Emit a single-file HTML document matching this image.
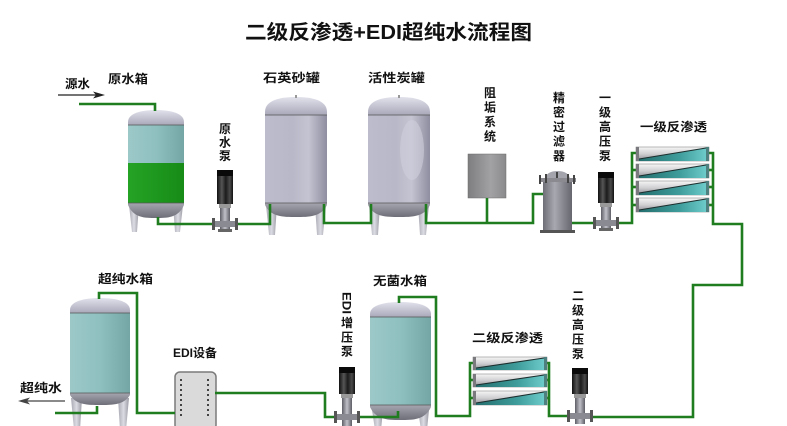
<!DOCTYPE html>
<html><head><meta charset="utf-8">
<style>
html,body{margin:0;padding:0;background:#fff;}
svg{display:block;}
text{font-family:"Liberation Sans","Noto Sans CJK SC",sans-serif;font-weight:bold;fill:#111;}
</style></head>
<body>
<svg width="787" height="426" viewBox="0 0 787 426" xmlns="http://www.w3.org/2000/svg">
<defs>
<linearGradient id="gTank" x1="0" x2="1" y1="0" y2="0">
<stop offset="0" stop-color="#bcbccc"/><stop offset="0.45" stop-color="#b8b8c8"/><stop offset="0.7" stop-color="#c4c4d2"/><stop offset="1" stop-color="#8e8ea0"/></linearGradient>
<linearGradient id="gTeal" x1="0" x2="1" y1="0" y2="0">
<stop offset="0" stop-color="#9cc8c8"/><stop offset="0.5" stop-color="#8fc0c0"/><stop offset="1" stop-color="#74a6a6"/></linearGradient>
<linearGradient id="gGreen" x1="0" x2="1" y1="0" y2="0">
<stop offset="0" stop-color="#25a325"/><stop offset="1" stop-color="#178c17"/></linearGradient>
<linearGradient id="gDome" x1="0" x2="0" y1="0" y2="1">
<stop offset="0" stop-color="#e2e2ec"/><stop offset="1" stop-color="#a8a8ba"/></linearGradient>
<linearGradient id="gBot" x1="0" x2="0" y1="0" y2="1">
<stop offset="0" stop-color="#a6a6b0"/><stop offset="1" stop-color="#6e6e78"/></linearGradient>
<linearGradient id="gLeg" x1="0" x2="1" y1="0" y2="0">
<stop offset="0" stop-color="#a8a8b2"/><stop offset="0.5" stop-color="#dcdce4"/><stop offset="1" stop-color="#9a9aa4"/></linearGradient>
<linearGradient id="gMotor" x1="0" x2="1" y1="0" y2="0">
<stop offset="0" stop-color="#111"/><stop offset="0.3" stop-color="#555"/><stop offset="0.55" stop-color="#1c1c1c"/><stop offset="0.8" stop-color="#4a4a4a"/><stop offset="1" stop-color="#111"/></linearGradient>
<linearGradient id="gCol" x1="0" x2="1" y1="0" y2="0">
<stop offset="0" stop-color="#5e5e66"/><stop offset="0.5" stop-color="#c0c0c8"/><stop offset="1" stop-color="#5e5e66"/></linearGradient>
<linearGradient id="gMemG" x1="0" x2="0" y1="0" y2="1">
<stop offset="0" stop-color="#f6f6f6"/><stop offset="0.5" stop-color="#cfcfd2"/><stop offset="1" stop-color="#8a8a8e"/></linearGradient>
<linearGradient id="gMemT" x1="0" x2="1" y1="0" y2="0">
<stop offset="0" stop-color="#246e6e"/><stop offset="0.6" stop-color="#3e9c9a"/><stop offset="1" stop-color="#6ccac8"/></linearGradient>
<linearGradient id="gBox" x1="0" x2="1" y1="0" y2="0">
<stop offset="0" stop-color="#7e7e80"/><stop offset="0.6" stop-color="#a2a2a4"/><stop offset="1" stop-color="#8a8a8c"/></linearGradient>
<linearGradient id="gFil" x1="0" x2="1" y1="0" y2="0">
<stop offset="0" stop-color="#6e6e76"/><stop offset="0.4" stop-color="#a8a8b0"/><stop offset="1" stop-color="#66666e"/></linearGradient>
</defs>

<!-- Title -->
<text x="245" y="39" font-size="20" textLength="287" lengthAdjust="spacingAndGlyphs">二级反渗透+EDI超纯水流程图</text>

<!-- Raw water tank -->
<g>
<polygon points="129,205 139,205 137,232 132,232" fill="url(#gLeg)"/>
<polygon points="173,205 183,205 180,232 175,232" fill="url(#gLeg)"/>
<path d="M128,203 L128,205 C133.6,218 144.8,218 156,218 C167.2,218 178.4,218 184,205 L184,203 Z" fill="url(#gBot)"/>
<rect x="128" y="125" width="56" height="38" fill="url(#gTeal)"/>
<rect x="128" y="163" width="56" height="40" fill="url(#gGreen)"/>
<path d="M128,125 L128,122 C128,113 142,110 156,110 C170,110 184,113 184,122 L184,125 Z" fill="url(#gDome)"/>
<line x1="128" y1="125" x2="184" y2="125" stroke="#555" stroke-width="0.8"/>
<line x1="128" y1="203" x2="184" y2="203" stroke="#555" stroke-width="0.8"/>
</g>
<!-- Sand tank -->
<g>
<polygon points="266,205 277,205 275,235 269,235" fill="url(#gLeg)"/>
<polygon points="315,205 326,205 323,235 317,235" fill="url(#gLeg)"/>
<path d="M265,203 L265,205 C271,217 283,217 296,217 C309,217 321,217 327,205 L327,203 Z" fill="url(#gBot)"/>
<rect x="265" y="115" width="62" height="88" fill="url(#gTank)"/>
<path d="M265,115 L265,112 C265,100 280.5,97 296,97 C311.5,97 327,100 327,112 L327,115 Z" fill="url(#gDome)"/>
<rect x="295" y="95" width="2" height="3" fill="#999"/>
<line x1="265" y1="115" x2="327" y2="115" stroke="#555" stroke-width="0.8"/>
<line x1="265" y1="203" x2="327" y2="203" stroke="#555" stroke-width="0.8"/>
</g>
<!-- Carbon tank -->
<g>
<polygon points="369,205 380,205 378,235 372,235" fill="url(#gLeg)"/>
<polygon points="418,205 429,205 426,235 420,235" fill="url(#gLeg)"/>
<path d="M368,203 L368,205 C374,217 386,217 399,217 C412,217 424,217 430,205 L430,203 Z" fill="url(#gBot)"/>
<rect x="368" y="115" width="62" height="88" fill="url(#gTank)"/>
<ellipse cx="412" cy="150" rx="12" ry="30" fill="#cfcfdc" opacity="0.6"/>
<path d="M368,115 L368,112 C368,100 383.5,97 399,97 C414.5,97 430,100 430,112 L430,115 Z" fill="url(#gDome)"/>
<rect x="398" y="95" width="2" height="3" fill="#999"/>
<line x1="368" y1="115" x2="430" y2="115" stroke="#555" stroke-width="0.8"/>
<line x1="368" y1="203" x2="430" y2="203" stroke="#555" stroke-width="0.8"/>
</g>
<!-- Ultra pure tank -->
<g>
<polygon points="71,398 82,398 80,430 74,430" fill="url(#gLeg)"/>
<polygon points="118,398 129,398 126,430 120,430" fill="url(#gLeg)"/>
<path d="M70,393 L70,395 C76,405 88,405 100,405 C112,405 124,405 130,395 L130,393 Z" fill="url(#gBot)"/>
<rect x="70" y="313" width="60" height="80" fill="url(#gTeal)"/>
<path d="M70,313 L70,310 C70,301 85,298 100,298 C115,298 130,301 130,310 L130,313 Z" fill="url(#gDome)"/>
<line x1="70" y1="313" x2="130" y2="313" stroke="#555" stroke-width="0.8"/>
<line x1="70" y1="393" x2="130" y2="393" stroke="#555" stroke-width="0.8"/>
</g>
<!-- Sterile tank -->
<g>
<polygon points="372,410 383,410 381,430 375,430" fill="url(#gLeg)"/>
<polygon points="418,410 429,410 427,430 421,430" fill="url(#gLeg)"/>
<path d="M370,405 L370,407 C376,420 388,420 400.5,420 C413,420 425,420 431,407 L431,405 Z" fill="url(#gBot)"/>
<rect x="370" y="317" width="61" height="88" fill="url(#gTeal)"/>
<path d="M370,317 L370,314 C370,305 385,302 400.5,302 C416,302 431,305 431,314 L431,317 Z" fill="url(#gDome)"/>
<line x1="370" y1="317" x2="431" y2="317" stroke="#555" stroke-width="0.8"/>
<line x1="370" y1="405" x2="431" y2="405" stroke="#555" stroke-width="0.8"/>
</g>

<!-- Scale inhibitor box -->
<rect x="468" y="154" width="38" height="44" fill="url(#gBox)" stroke="#6a6a6a" stroke-width="0.5"/>

<!-- Precision filter -->
<g>
<rect x="543" y="181" width="29" height="50" fill="url(#gFil)"/>
<path d="M545,180 C545,173 552,171 557.5,171 C563,171 570,173 570,180 Z" fill="#a4a4ac"/>
<rect x="539" y="178" width="37" height="4" fill="#8a8a90"/>
<rect x="539" y="175" width="2" height="9" fill="#444"/>
<rect x="545" y="174" width="2" height="9" fill="#444"/>
<rect x="556" y="172" width="2" height="6" fill="#444"/>
<rect x="567" y="174" width="2" height="9" fill="#444"/>
<rect x="573" y="175" width="2" height="9" fill="#444"/>
<rect x="540" y="230" width="35" height="3" fill="#555"/>
</g>

<!-- EDI device -->
<g>
<rect x="175" y="372" width="41" height="58" rx="5" fill="#dadada" stroke="#7a7a7a" stroke-width="1.5"/>
<g fill="#444">
<rect x="180" y="379" width="2" height="2"/><rect x="180" y="384" width="2" height="2"/><rect x="180" y="389" width="2" height="2"/><rect x="180" y="394" width="2" height="2"/><rect x="180" y="399" width="2" height="2"/><rect x="180" y="404" width="2" height="2"/><rect x="180" y="409" width="2" height="2"/><rect x="180" y="414" width="2" height="2"/>
<rect x="207" y="379" width="2" height="2"/><rect x="207" y="384" width="2" height="2"/><rect x="207" y="389" width="2" height="2"/><rect x="207" y="394" width="2" height="2"/><rect x="207" y="399" width="2" height="2"/><rect x="207" y="404" width="2" height="2"/><rect x="207" y="409" width="2" height="2"/><rect x="207" y="414" width="2" height="2"/>
</g>
</g>

<!-- PIPES -->
<g fill="none" stroke="#1f7d1f" stroke-width="2.6" stroke-linejoin="miter">
<polyline points="79,104 155,104 155,111"/>
<polyline points="158,217 158,224 214,224"/>
<polyline points="236,224 270,224 270,204"/>
<polyline points="324,204 324,223 371,223 371,204"/>
<polyline points="426,204 426,223 533,223 533,194 543,194"/>
<polyline points="487,198 487,223"/>
<polyline points="572,223 595,223"/>
<polyline points="617,223 632,223 632,153 637,153"/>
<polyline points="632,170 637,170"/>
<polyline points="632,187 637,187"/>
<polyline points="632,205 637,205"/>
<polyline points="708,153 713,153 713,224 742,224 742,285 693,285 693,417 592,417"/>
<polyline points="708,170 713,170"/>
<polyline points="708,187 713,187"/>
<polyline points="708,205 713,205"/>
<polyline points="568,416 549,416 549,363 546,363"/>
<polyline points="549,380 546,380"/>
<polyline points="549,398 546,398"/>
<polyline points="474,363 470,363 470,416 436,416 436,297 399,297 399,303"/>
<polyline points="470,380 474,380"/>
<polyline points="470,398 474,398"/>
<polyline points="398,411 398,417 359,417"/>
<polyline points="335,417 325,417 325,393 215,393"/>
<polyline points="175,413 137,413 137,293 99,293 99,299"/>
<polyline points="97,406 97,413 55,413"/>
</g>

<!-- MEMBRANES stage 1 -->
<g>
<rect x="636" y="147" width="73" height="14" fill="url(#gMemG)" stroke="#777" stroke-width="0.5"/>
<polygon points="639,161 639,159 706,148 706,161" fill="url(#gMemT)"/>
<line x1="639" y1="159" x2="706" y2="148" stroke="#1d2f2f" stroke-width="1.1"/>
<rect x="636" y="147" width="3" height="14" fill="#7a7a7e"/>
<rect x="706" y="147" width="3" height="14" fill="#4f8080"/>
</g>
<g>
<rect x="636" y="164" width="73" height="14" fill="url(#gMemG)" stroke="#777" stroke-width="0.5"/>
<polygon points="639,178 639,176 706,165 706,178" fill="url(#gMemT)"/>
<line x1="639" y1="176" x2="706" y2="165" stroke="#1d2f2f" stroke-width="1.1"/>
<rect x="636" y="164" width="3" height="14" fill="#7a7a7e"/>
<rect x="706" y="164" width="3" height="14" fill="#4f8080"/>
</g>
<g>
<rect x="636" y="181" width="73" height="14" fill="url(#gMemG)" stroke="#777" stroke-width="0.5"/>
<polygon points="639,195 639,193 706,182 706,195" fill="url(#gMemT)"/>
<line x1="639" y1="193" x2="706" y2="182" stroke="#1d2f2f" stroke-width="1.1"/>
<rect x="636" y="181" width="3" height="14" fill="#7a7a7e"/>
<rect x="706" y="181" width="3" height="14" fill="#4f8080"/>
</g>
<g>
<rect x="636" y="198" width="73" height="14" fill="url(#gMemG)" stroke="#777" stroke-width="0.5"/>
<polygon points="639,212 639,210 706,199 706,212" fill="url(#gMemT)"/>
<line x1="639" y1="210" x2="706" y2="199" stroke="#1d2f2f" stroke-width="1.1"/>
<rect x="636" y="198" width="3" height="14" fill="#7a7a7e"/>
<rect x="706" y="198" width="3" height="14" fill="#4f8080"/>
</g>
<!-- stage 2 -->
<g>
<rect x="473" y="357" width="74" height="13" fill="url(#gMemG)" stroke="#777" stroke-width="0.5"/>
<polygon points="476,370 476,368 544,358 544,370" fill="url(#gMemT)"/>
<line x1="476" y1="368" x2="544" y2="358" stroke="#1d2f2f" stroke-width="1.1"/>
<rect x="473" y="357" width="3" height="13" fill="#7a7a7e"/>
<rect x="544" y="357" width="3" height="13" fill="#4f8080"/>
</g>
<g>
<rect x="473" y="374" width="74" height="13" fill="url(#gMemG)" stroke="#777" stroke-width="0.5"/>
<polygon points="476,387 476,385 544,375 544,387" fill="url(#gMemT)"/>
<line x1="476" y1="385" x2="544" y2="375" stroke="#1d2f2f" stroke-width="1.1"/>
<rect x="473" y="374" width="3" height="13" fill="#7a7a7e"/>
<rect x="544" y="374" width="3" height="13" fill="#4f8080"/>
</g>
<g>
<rect x="473" y="391" width="74" height="14" fill="url(#gMemG)" stroke="#777" stroke-width="0.5"/>
<polygon points="476,405 476,403 544,392 544,405" fill="url(#gMemT)"/>
<line x1="476" y1="403" x2="544" y2="392" stroke="#1d2f2f" stroke-width="1.1"/>
<rect x="473" y="391" width="3" height="14" fill="#7a7a7e"/>
<rect x="544" y="391" width="3" height="14" fill="#4f8080"/>
</g>

<!-- PUMPS -->
<g>
<rect x="217" y="170" width="16" height="34" fill="url(#gMotor)"/>
<rect x="217" y="170" width="16" height="6" fill="#0a0a0a"/>
<rect x="219" y="204" width="12" height="4" fill="#999"/>
<rect x="220" y="208" width="10" height="22" fill="url(#gCol)"/>
<rect x="213" y="221" width="24" height="6" fill="#8a8a92"/>
<rect x="212" y="218" width="3" height="12" fill="#555"/>
<rect x="235" y="218" width="3" height="12" fill="#555"/>
<rect x="218" y="229" width="14" height="3" fill="#666"/>
</g>
<g>
<rect x="598" y="172" width="16" height="31" fill="url(#gMotor)"/>
<rect x="598" y="172" width="16" height="6" fill="#0a0a0a"/>
<rect x="600" y="203" width="12" height="4" fill="#999"/>
<rect x="601" y="207" width="10" height="22" fill="url(#gCol)"/>
<rect x="594" y="220" width="24" height="6" fill="#8a8a92"/>
<rect x="593" y="217" width="3" height="12" fill="#555"/>
<rect x="616" y="217" width="3" height="12" fill="#555"/>
<rect x="599" y="228" width="14" height="3" fill="#666"/>
</g>
<g>
<rect x="572" y="368" width="16" height="26" fill="url(#gMotor)"/>
<rect x="572" y="368" width="16" height="6" fill="#0a0a0a"/>
<rect x="574" y="394" width="12" height="4" fill="#999"/>
<rect x="575" y="398" width="10" height="26" fill="url(#gCol)"/>
<rect x="568" y="413" width="24" height="6" fill="#8a8a92"/>
<rect x="567" y="410" width="3" height="12" fill="#555"/>
<rect x="590" y="410" width="3" height="12" fill="#555"/>
</g>
<g>
<rect x="339" y="367" width="16" height="27" fill="url(#gMotor)"/>
<rect x="339" y="367" width="16" height="6" fill="#0a0a0a"/>
<rect x="341" y="394" width="12" height="4" fill="#999"/>
<rect x="342" y="398" width="10" height="28" fill="url(#gCol)"/>
<rect x="335" y="414" width="24" height="6" fill="#8a8a92"/>
<rect x="334" y="411" width="3" height="12" fill="#555"/>
<rect x="357" y="411" width="3" height="12" fill="#555"/>
</g>

<!-- ARROWS -->
<line x1="58" y1="95" x2="98" y2="95" stroke="#222" stroke-width="1.3"/>
<polygon points="105,95 93,91.5 96,95 93,98.5" fill="#222"/>
<line x1="65" y1="401" x2="25" y2="401" stroke="#444" stroke-width="1.3"/>
<polygon points="18,401 30,397.5 27,401 30,404.5" fill="#444"/>

<!-- LABELS -->
<g font-size="12">
<text x="65" y="88" textLength="25" lengthAdjust="spacingAndGlyphs">源水</text>
<text x="108" y="83" textLength="40" lengthAdjust="spacingAndGlyphs">原水箱</text>
<text x="263" y="82" textLength="57" lengthAdjust="spacingAndGlyphs">石英砂罐</text>
<text x="368" y="82" textLength="57" lengthAdjust="spacingAndGlyphs">活性炭罐</text>
<text x="640" y="131" textLength="67" lengthAdjust="spacingAndGlyphs">一级反渗透</text>
<text x="98" y="283" textLength="55" lengthAdjust="spacingAndGlyphs">超纯水箱</text>
<text x="373" y="285" textLength="54" lengthAdjust="spacingAndGlyphs">无菌水箱</text>
<text x="472" y="342" textLength="71" lengthAdjust="spacingAndGlyphs">二级反渗透</text>
<text x="173" y="357" textLength="44" lengthAdjust="spacingAndGlyphs">EDI设备</text>
<text x="20" y="392" textLength="42" lengthAdjust="spacingAndGlyphs">超纯水</text>
</g>
<g font-size="12" text-anchor="middle">
<text x="225" y="133">原</text><text x="225" y="146.5">水</text><text x="225" y="160">泵</text>
<text x="490" y="97">阻</text><text x="490" y="111.5">垢</text><text x="490" y="126">系</text><text x="490" y="140.5">统</text>
<text x="559" y="102">精</text><text x="559" y="116.5">密</text><text x="559" y="131">过</text><text x="559" y="145.5">滤</text><text x="559" y="160">器</text>
<text x="605" y="102">一</text><text x="605" y="116.5">级</text><text x="605" y="131">高</text><text x="605" y="145.5">压</text><text x="605" y="160">泵</text>
<text x="578" y="300">二</text><text x="578" y="314.5">级</text><text x="578" y="329">高</text><text x="578" y="343.5">压</text><text x="578" y="358">泵</text>
<text x="347" y="327">增</text><text x="347" y="341.5">压</text><text x="347" y="355.5">泵</text>
</g>
<text font-size="12" transform="translate(342.5,292) rotate(90)" textLength="22" lengthAdjust="spacingAndGlyphs">EDI</text>
</svg>
</body></html>
